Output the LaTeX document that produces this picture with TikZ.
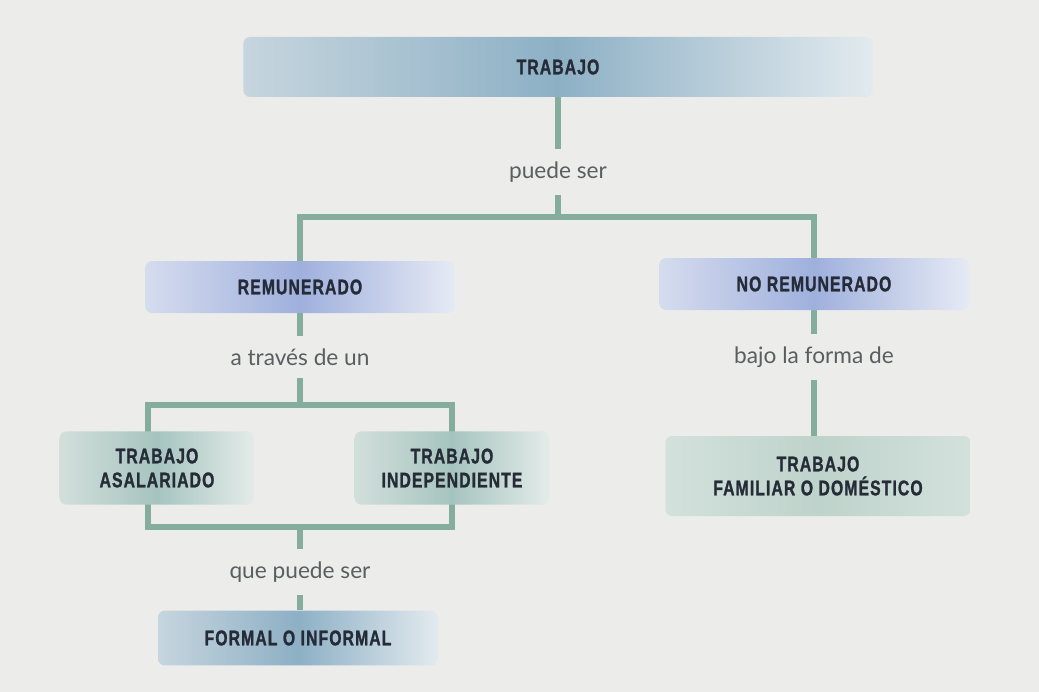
\documentclass[tikz,border=0pt]{standalone}
\usepackage{fontspec}
\setmainfont{Lato}
\newfontfamily\boxfont[FakeStretch=0.74,LetterSpace=5,BoldFeatures={FakeBold=1.2}]{Liberation Sans}
\usetikzlibrary{calc}
\pgfdeclarelayer{bg}
\pgfdeclarelayer{back}
\pgfsetlayers{back,bg,main}
\definecolor{bgc}{HTML}{ECEDEB}
\definecolor{linec}{HTML}{84AD9D}
\definecolor{boxtxt}{HTML}{262B38}
\definecolor{labtxt}{HTML}{5A5E60}
\definecolor{steel}{HTML}{8DB0C5}
\definecolor{steelL}{HTML}{C6D5DE}
\definecolor{lav}{HTML}{9FB0DD}
\definecolor{lavL}{HTML}{D5DCEE}
\definecolor{teal}{HTML}{A6C4BF}
\definecolor{tealL}{HTML}{D2DFDB}
\definecolor{sage}{HTML}{BED3CB}
\definecolor{sageL}{HTML}{D3E1DC}
\tikzset{
  x=0.75pt,y=-0.75pt,
  cbox/.style={rounded corners=5pt, align=center, text=boxtxt,
    font=\boxfont\bfseries\fontsize{16}{18}\selectfont, inner sep=0pt},
  topbox/.style={cbox, left color=steelL, right color=steelL!50!white, middle color=steel},
  lavbox/.style={cbox, left color=lavL, right color=lavL!60!white, middle color=lav},
  tealbox/.style={cbox, left color=tealL, right color=tealL!60!white, middle color=teal},
  sagebox/.style={cbox, left color=sageL, right color=sageL, middle color=sage},
  lab/.style={text=labtxt, font=\fontsize{17}{19}\selectfont, inner xsep=2pt, inner ysep=9pt},
  conn/.style={draw=linec, line width=3.8pt}
}
\begin{document}
\begin{tikzpicture}
\begin{pgfonlayer}{back}
\fill[bgc] (0,0) rectangle (1039,692);
\end{pgfonlayer}
\useasboundingbox (0,0) rectangle (1039,692);

\node[topbox, minimum width=472pt, minimum height=45pt] (top) at (558,67) {TRABAJO};
\node[lab] (puede) at (558,172) {puede ser};
\node[lavbox, minimum width=232pt, minimum height=39pt] (rem) at (300,287) {REMUNERADO};
\node[lavbox, minimum width=232pt, minimum height=39pt] (norem) at (814,284) {NO REMUNERADO};
\node[lab] (atraves) at (300,357) {a través de un};
\node[lab] (bajo) at (814,357) {bajo la forma de};
\node[tealbox, minimum width=146pt, minimum height=55pt] (asal) at (157,468) {TRABAJO\\ASALARIADO};
\node[tealbox, minimum width=146pt, minimum height=55pt] (indep) at (452,468) {TRABAJO\\INDEPENDIENTE};
\node[sagebox, minimum width=229pt, minimum height=60pt] (fam) at (818,476) {TRABAJO\\FAMILIAR O DOMÉSTICO};
\node[lab] (que) at (300,572) {que puede ser};
\node[topbox, minimum width=210pt, minimum height=41pt] (formal) at (298,638) {FORMAL O INFORMAL};

\coordinate (j1) at (558,217);
\coordinate (jl) at (300,217);
\coordinate (jr) at (814,217);
\coordinate (a1) at (300,405);
\coordinate (al) at (148,405);
\coordinate (ar) at (452,405);
\coordinate (bl) at (148,527);
\coordinate (br) at (452,527);
\coordinate (b1) at (300,527);

\begin{pgfonlayer}{bg}
\draw[conn] (top) -- (puede);
\draw[conn] (puede) -- (j1);
\draw[conn, line cap=rect] (jl) -- (jr);
\draw[conn] (jl) -- (rem);
\draw[conn] (jr) -- (norem);
\draw[conn] (rem) -- (atraves);
\draw[conn] (atraves) -- (a1);
\draw[conn] (norem) -- (bajo);
\draw[conn] (bajo) -- (bajo |- fam.north);
\draw[conn, line cap=rect] (al) -- (ar);
\draw[conn, line cap=rect] (bl) -- (br);
\draw[conn] (al) -- (bl);
\draw[conn] (ar) -- (br);
\draw[conn] (b1) -- (que);
\draw[conn] (que) -- (que |- formal.north);
\end{pgfonlayer}
\end{tikzpicture}
\end{document}
